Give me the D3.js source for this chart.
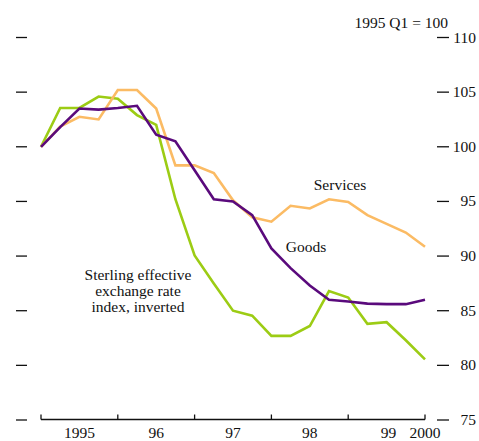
<!DOCTYPE html>
<html>
<head>
<meta charset="utf-8">
<script src="https://cdn.jsdelivr.net/npm/d3@7"></script>
<style>
  html, body { margin: 0; padding: 0; background: #fff; }
  svg { display: block; }
  text { font-family: "Liberation Serif", "Times New Roman", serif; fill: #111; }
</style>
</head>
<body>
<script>
// Quarterly observations 1995 Q1 .. 2000 Q1 (1995 Q1 = 100)
const quarters = d3.range(21).map(i => 1995 + i / 4);
const goods = [100, 101.8, 103.5, 103.4, 103.55, 103.75, 101.1, 100.5, 97.85, 95.2, 95.0, 93.75, 90.7, 88.9, 87.3, 86.0, 85.85, 85.65, 85.6, 85.6, 86.0];
const services = [100, 101.85, 102.75, 102.5, 105.2, 105.2, 103.5, 98.3, 98.3, 97.6, 95.1, 93.55, 93.15, 94.6, 94.35, 95.2, 94.95, 93.75, 92.95, 92.15, 90.85];
const sterling = [100, 103.55, 103.55, 104.6, 104.4, 102.9, 102.0, 95.2, 90.05, 87.5, 85.0, 84.55, 82.7, 82.7, 83.6, 86.8, 86.2, 83.8, 83.95, 82.3, 80.55];
const yTicks = [75, 80, 85, 90, 95, 100, 105, 110];
const xTicks = [1995, 1996, 1997, 1998, 1999, 2000];
const xLabels = [
  { at: 1995.5, text: "1995" },
  { at: 1996.5, text: "96" },
  { at: 1997.5, text: "97" },
  { at: 1998.5, text: "98" },
  { at: 1999.5, text: "99" },
  { at: 2000, text: "2000" }
];

const W = 479, H = 441;
const svg = d3.select("body").append("svg").attr("width", W).attr("height", H);

const x = d3.scaleLinear().domain([1995, 2000]).range([41, 425]);
const y = d3.scaleLinear().domain([75, 110]).range([420, 37.5]);

// left tick marks (no labels)
svg.append("g").selectAll("line").data(yTicks).join("line")
  .attr("x1", 16).attr("x2", 27)
  .attr("y1", d => y(d)).attr("y2", d => y(d))
  .attr("stroke", "#111").attr("stroke-width", 1.3);

// right axis
svg.append("g").selectAll("line").data(yTicks).join("line")
  .attr("x1", 437).attr("x2", 449)
  .attr("y1", d => y(d)).attr("y2", d => y(d))
  .attr("stroke", "#111").attr("stroke-width", 1.3);
svg.append("g").selectAll("text").data(yTicks).join("text")
  .attr("x", 476).attr("y", d => y(d) + 5)
  .attr("text-anchor", "end")
  .attr("font-size", 15.5)
  .text(d => d);

// bottom axis
const xa = svg.append("g");
xa.append("line")
  .attr("x1", x(1995)).attr("x2", x(2000))
  .attr("y1", y(75) - 0.5).attr("y2", y(75) - 0.5)
  .attr("stroke", "#111").attr("stroke-width", 1.3);
xa.selectAll("line.t").data(xTicks).join("line").attr("class", "t")
  .attr("x1", d => x(d)).attr("x2", d => x(d))
  .attr("y1", y(75) - 0.5).attr("y2", y(75) - 5.5)
  .attr("stroke", "#111").attr("stroke-width", 1.3);
xa.selectAll("text").data(xLabels).join("text")
  .attr("x", d => x(d.at) + (d.text === "99" ? 2 : 0))
  .attr("y", 438)
  .attr("text-anchor", "middle")
  .attr("font-size", 15.5)
  .text(d => d.text);

// lines
const line = d3.line().x((d, i) => x(quarters[i])).y(d => y(d));
const series = [
  { name: "Sterling", values: sterling, color: "#9ccc14" },
  { name: "Services", values: services, color: "#fbbb64" },
  { name: "Goods", values: goods, color: "#5a0a7c" }
];
svg.append("g").selectAll("path").data(series).join("path")
  .attr("d", d => line(d.values))
  .attr("fill", "none")
  .attr("stroke", d => d.color)
  .attr("stroke-width", 2.6)
  .attr("stroke-linejoin", "miter");

// annotations
svg.append("text").attr("x", 448).attr("y", 28).attr("text-anchor", "end")
  .attr("font-size", 15.5).text("1995 Q1 = 100");
svg.append("text").attr("x", 340).attr("y", 190).attr("text-anchor", "middle")
  .attr("font-size", 15.5).text("Services");
svg.append("text").attr("x", 306).attr("y", 252).attr("text-anchor", "middle")
  .attr("font-size", 15.5).text("Goods");
const lab = ["Sterling effective", "exchange rate", "index, inverted"];
svg.append("g").selectAll("text").data(lab).join("text")
  .attr("x", 138).attr("y", (d, i) => 280 + i * 16)
  .attr("text-anchor", "middle")
  .attr("font-size", 15.5)
  .text(d => d);
</script>
</body>
</html>
